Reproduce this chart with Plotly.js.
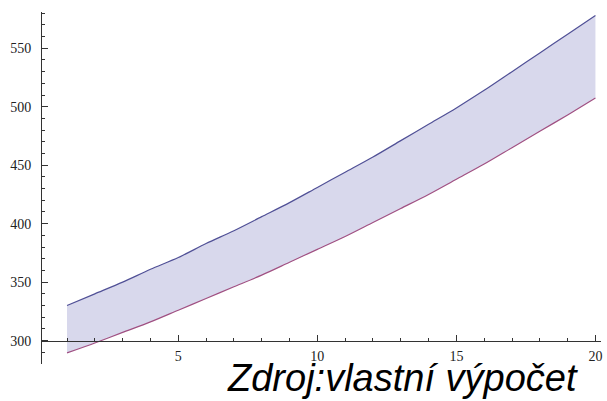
<!DOCTYPE html>
<html>
<head>
<meta charset="utf-8">
<script src="https://cdn.plot.ly/plotly-3.0.1.min.js"></script>
<style>html,body{margin:0;padding:0;background:#fff}#chart{width:607px;height:401px}</style>
</head>
<body>
<div id="chart"></div>
<script>
const years = [1,2,3,4,5,6,7,8,9,10,11,12,13,14,15,16,17,18,19,20];
const upperValues = [330,340,350,361,371,383,394,406,418,431,444,457,471,485,499,514,530,546,562,578];
const lowerValues = [289.5,298,307,316,326,336,346,356,367,378,389,401,413,425,438,451,465,479,493,507.5];
const xTickVals = [5,10,15,20];
const yTickVals = [300,350,400,450,500,550];
const sourceText = 'Zdroj:vlastní výpočet';

const traces = [
  {x: years, y: lowerValues, type: 'scatter', mode: 'lines',
   line: {color: 'rgb(160,80,130)', width: 1.2, shape: 'spline', smoothing: 0.8}, hoverinfo: 'skip'},
  {x: years, y: upperValues, type: 'scatter', mode: 'lines', fill: 'tonexty',
   fillcolor: 'rgb(216,216,236)',
   line: {color: 'rgb(80,80,150)', width: 1.2, shape: 'spline', smoothing: 0.8}, hoverinfo: 'skip'}
];

const yMin = 280, yMax = 581;
const layout = {
  width: 607, height: 401,
  margin: {l: 42, r: 6, t: 12, b: 37},
  paper_bgcolor: '#fff', plot_bgcolor: '#fff',
  showlegend: false,
  font: {family: 'Liberation Serif, serif', size: 14, color: '#222'},
  xaxis: {
    range: [0.1, 20.2], showgrid: false, zeroline: false,
    anchor: 'free', position: (300 - yMin) / (yMax - yMin),
    showline: true, linecolor: '#333', linewidth: 1,
    tickmode: 'array', tickvals: xTickVals, ticktext: xTickVals.map(String),
    ticks: 'inside', ticklen: 6, tickwidth: 1, tickcolor: '#333',
    minor: {dtick: 1, tick0: 0, ticks: 'inside', ticklen: 3, tickwidth: 1, tickcolor: '#333'},
    ticklabelstandoff: 3
  },
  yaxis: {
    range: [yMin, yMax], showgrid: false, zeroline: false,
    showline: true, linecolor: '#333', linewidth: 1,
    tickmode: 'array', tickvals: yTickVals, ticktext: yTickVals.map(String),
    ticks: 'inside', ticklen: 6, tickwidth: 1, tickcolor: '#333',
    minor: {dtick: 10, tick0: 0, ticks: 'inside', ticklen: 3, tickwidth: 1, tickcolor: '#333'},
    ticklabelstandoff: 7
  },
  annotations: [{
    text: sourceText, xref: 'paper', yref: 'paper', x: 0.962, y: -0.105,
    xanchor: 'right', yanchor: 'bottom', showarrow: false,
    font: {family: 'Liberation Sans Narrow, Liberation Sans, Arial, sans-serif', size: 38, color: '#000', style: 'italic'}
  }]
};

Plotly.newPlot('chart', traces, layout, {displayModeBar: false, staticPlot: true});
</script>
</body>
</html>
